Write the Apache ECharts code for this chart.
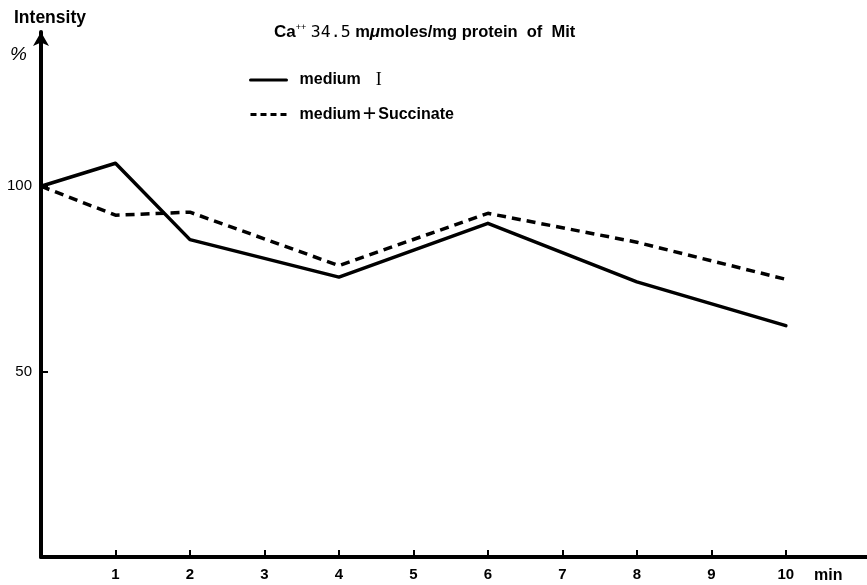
<!DOCTYPE html>
<html>
<head>
<meta charset="utf-8">
<script src="https://cdn.jsdelivr.net/npm/echarts@6/dist/echarts.min.js"></script>
<style>
  html, body { margin: 0; padding: 0; background: #fff; }
  #chart { width: 867px; height: 585px; }
</style>
</head>
<body>
<div id="chart"></div>
<script>
// Time points (min) and relative intensity (%) for each medium
const minutes = [0, 1, 2, 4, 6, 8, 10];
const mediumI = [100, 106.2, 85.6, 75.5, 90.0, 74.2, 62.4];
const mediumSuccinate = [100, 92.2, 93.0, 78.6, 92.7, 84.9, 74.9];

const xTicks = [1, 2, 3, 4, 5, 6, 7, 8, 9, 10];
const yTicks = [50, 100];

const seriesNames = ['medium  {r|I}', 'medium{p|+}Succinate'];

const FONT = '"Liberation Sans", Arial, sans-serif';

const chart = echarts.init(document.getElementById('chart'));

chart.setOption({
  backgroundColor: '#fff',
  animation: false,
  grid: { left: 41, right: 0, top: 32, bottom: 28 },
  xAxis: {
    type: 'value',
    min: 0,
    max: 11.09,
    splitLine: { show: false },
    axisLine: { lineStyle: { color: '#000', width: 4 } },
    axisTick: {
      customValues: xTicks,
      inside: true,
      length: 7,
      lineStyle: { color: '#000', width: 2 }
    },
    axisLabel: {
      customValues: xTicks,
      margin: 10,
      color: '#000',
      fontFamily: FONT,
      fontSize: 15,
      fontWeight: 'bold'
    }
  },
  yAxis: {
    type: 'value',
    min: 0,
    max: 141.6,
    splitLine: { show: false },
    axisLine: {
      show: true,
      symbol: ['none', 'arrow'],
      symbolSize: [12, 14],
      symbolOffset: [0, 0],
      lineStyle: { color: '#000', width: 4 }
    },
    axisTick: {
      show: true,
      customValues: yTicks,
      inside: true,
      length: 7,
      lineStyle: { color: '#000', width: 2 }
    },
    axisLabel: {
      customValues: yTicks,
      margin: 9,
      color: '#000',
      fontFamily: FONT,
      fontSize: 15
    }
  },
  legend: {
    orient: 'vertical',
    left: 244,
    top: 66,
    itemWidth: 36,
    itemHeight: 16,
    itemGap: 14,
    itemStyle: { opacity: 0 },
    lineStyle: { width: 3 },
    data: [
      { name: seriesNames[0] },
      { name: seriesNames[1], lineStyle: { width: 3, type: [6, 4] } }
    ],
    textStyle: {
      color: '#000',
      fontFamily: FONT,
      fontSize: 16,
      fontWeight: 'bold',
      padding: [0, 0, 0, 8],
      rich: {
        r: { fontFamily: '"Liberation Serif", serif', fontWeight: 'normal', fontSize: 18, color: '#000', padding: [0, 0, 0, 6] },
        p: { fontFamily: FONT, fontWeight: 'normal', fontSize: 23, color: '#000', padding: [0, 2, 0, 2] }
      }
    }
  },
  graphic: [
    {
      type: 'text',
      left: 14,
      top: 9,
      style: { text: 'Intensity', fill: '#000', font: 'bold 17.5px ' + FONT }
    },
    {
      type: 'text',
      left: 10,
      top: 45,
      style: { text: '%', fill: '#000', font: 'italic 19px ' + FONT }
    },
    {
      type: 'text',
      left: 814,
      top: 568,
      style: { text: 'min', fill: '#000', font: 'bold 16px ' + FONT }
    },
    {
      type: 'text',
      left: 274,
      top: 23,
      style: {
        text: '{ca|Ca}{sup|++} {num|34.5} m{mu|μ}moles/mg protein  of  Mit',
        fill: '#000',
        font: 'bold 16.5px ' + FONT,
        rich: {
          ca: { fontFamily: FONT, fontWeight: 'bold', fontSize: 17, fill: '#000' },
          sup: { fontFamily: FONT, fontSize: 9, verticalAlign: 'top', fill: '#000', padding: [0, 0, 10, 0] },
          num: { fontFamily: '"DejaVu Sans Mono", monospace', fontSize: 16.5, fill: '#000' },
          mu: { fontFamily: FONT, fontWeight: 'bold', fontStyle: 'italic', fontSize: 17, fill: '#000' }
        }
      }
    }
  ],
  series: [
    {
      name: seriesNames[0],
      type: 'line',
      symbol: 'none',
      data: minutes.map((m, i) => [m, mediumI[i]]),
      lineStyle: { color: '#000', width: 3.5, cap: 'round', join: 'round' },
      itemStyle: { color: '#000' }
    },
    {
      name: seriesNames[1],
      type: 'line',
      symbol: 'none',
      data: minutes.map((m, i) => [m, mediumSuccinate[i]]),
      lineStyle: { color: '#000', width: 3.5, type: [9, 6] },
      itemStyle: { color: '#000' }
    }
  ]
});
</script>
</body>
</html>
